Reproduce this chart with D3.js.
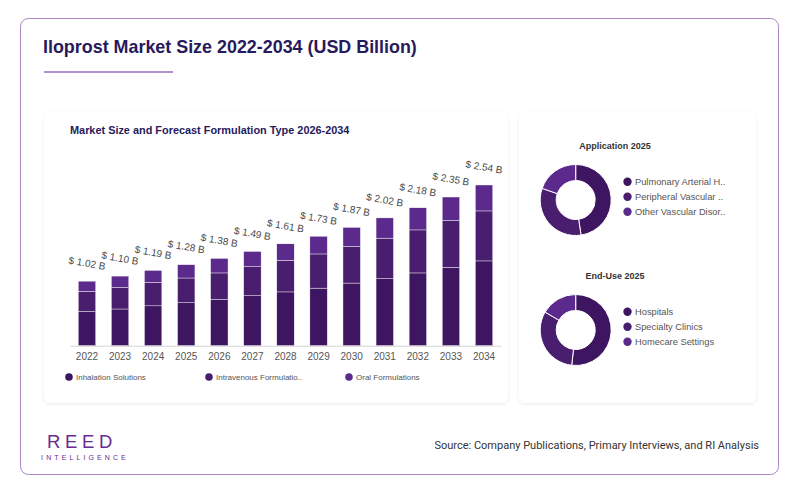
<!DOCTYPE html>
<html>
<head>
<meta charset="utf-8">
<script src="https://cdn.jsdelivr.net/npm/d3@7"></script>
<style>
  html, body { margin: 0; padding: 0; background: #ffffff; }
  svg { display: block; }
</style>
</head>
<body>
<svg id="chart" width="800" height="493"></svg>
<script>
'use strict';

var years = ['2022', '2023', '2024', '2025', '2026', '2027', '2028', '2029', '2030', '2031', '2032', '2033', '2034'];
var totals = [1.02, 1.10, 1.19, 1.28, 1.38, 1.49, 1.61, 1.73, 1.87, 2.02, 2.18, 2.35, 2.54];
var inhalation = [0.54, 0.58, 0.63, 0.68, 0.73, 0.79, 0.85, 0.91, 0.99, 1.06, 1.15, 1.24, 1.34];
var intravenous = [0.32, 0.34, 0.37, 0.39, 0.42, 0.46, 0.50, 0.54, 0.58, 0.64, 0.68, 0.74, 0.79];
var oral = [0.16, 0.18, 0.19, 0.21, 0.23, 0.24, 0.26, 0.28, 0.30, 0.32, 0.35, 0.37, 0.41];
var seriesNames = ['Inhalation Solutions', 'Intravenous Formulatio..', 'Oral Formulations'];

var appLabels = ['Pulmonary Arterial H..', 'Peripheral Vascular ..', 'Other Vascular Disor..'];
var appValues = [47.6, 32.7, 19.7];
var endUseLabels = ['Hospitals', 'Specialty Clinics', 'Homecare Settings'];
var endUseValues = [51.8, 31.6, 16.6];

(function () {
    var colors = ['#3d1560', '#4a1e6e', '#5b2a8c'];
    var titleColor = '#271a5c';
    var svg = d3.select('#chart');

    // soft card shadow
    var defs = svg.append('defs');
    var f = defs.append('filter').attr('id', 'shadow')
        .attr('x', '-5%').attr('y', '-5%').attr('width', '110%').attr('height', '110%');
    f.append('feDropShadow').attr('dx', 0).attr('dy', 1).attr('stdDeviation', 1.5)
        .attr('flood-color', '#000').attr('flood-opacity', 0.08);

    // outer frame
    svg.append('rect')
        .attr('x', 20.5).attr('y', 18.5).attr('width', 758).attr('height', 456)
        .attr('rx', 8).attr('fill', '#fff').attr('stroke', '#a986c6').attr('stroke-width', 1);

    svg.append('text')
        .attr('x', 43).attr('y', 53)
        .attr('font-family', 'Liberation Sans, Arial, sans-serif')
        .attr('font-weight', 'bold').attr('font-size', 17.9)
        .attr('fill', titleColor)
        .text('Iloprost Market Size 2022-2034 (USD Billion)');

    svg.append('line')
        .attr('x1', 44).attr('x2', 173).attr('y1', 72).attr('y2', 72)
        .attr('stroke', '#9a6bbd').attr('stroke-width', 1.5);

    // cards
    svg.append('rect').attr('x', 44).attr('y', 112).attr('width', 464).attr('height', 291)
        .attr('rx', 6).attr('fill', '#fff').attr('filter', 'url(#shadow)');
    svg.append('rect').attr('x', 519).attr('y', 112).attr('width', 237).attr('height', 291)
        .attr('rx', 6).attr('fill', '#fff').attr('filter', 'url(#shadow)');

    svg.append('text')
        .attr('x', 70).attr('y', 134)
        .attr('font-family', 'Liberation Sans, Arial, sans-serif')
        .attr('font-weight', 'bold').attr('font-size', 10.9)
        .attr('fill', titleColor)
        .text('Market Size and Forecast Formulation Type 2026-2034');

    /* stacked bars */
    var x = d3.scaleBand().domain(years).range([70, 501]).paddingInner(0.474).paddingOuter(0.25);
    var y = d3.scaleLinear().domain([0, 2.54]).range([345.7, 185]);

    var rows = years.map(function (yr, i) {
        return { year: yr, inh: inhalation[i], iv: intravenous[i], oral: oral[i], total: totals[i] };
    });
    var stack = d3.stack().keys(['inh', 'iv', 'oral'])(rows);

    var g = svg.append('g');
    g.selectAll('g.series')
        .data(stack)
        .enter().append('g')
          .attr('fill', function (d, i) { return colors[i]; })
        .selectAll('rect')
        .data(function (d) { return d; })
        .enter().append('rect')
          .attr('x', function (d) { return x(d.data.year); })
          .attr('y', function (d) { return y(d[1]); })
          .attr('width', x.bandwidth())
          .attr('height', function (d) { return y(d[0]) - y(d[1]); })
          .attr('stroke', '#fff').attr('stroke-width', 0.4);

    var xAxis = svg.append('g')
        .attr('transform', 'translate(0,' + y(0) + ')')
        .call(d3.axisBottom(x).tickSize(0).tickPadding(7));
    xAxis.select('.domain').attr('stroke', '#d4d4d4');
    xAxis.selectAll('text')
        .attr('font-family', 'Liberation Sans, Arial, sans-serif')
        .attr('font-size', 10).attr('fill', '#555');

    g.selectAll('text.total')
        .data(rows)
        .enter().append('text')
          .attr('class', 'total')
          .attr('transform', function (d) {
              return 'translate(' + (x(d.year) + x.bandwidth() / 2) + ',' + (y(d.total) - 18) + ') rotate(10)';
          })
          .attr('text-anchor', 'middle').attr('dominant-baseline', 'central')
          .attr('font-family', 'Liberation Sans, Arial, sans-serif')
          .attr('font-size', 10).attr('fill', '#4a4a4a')
          .text(function (d) { return '$ ' + d.total.toFixed(2) + ' B'; });

    var leg = svg.append('g');
    seriesNames.forEach(function (name, i) {
        var lx = 69 + i * 140;
        leg.append('circle').attr('cx', lx).attr('cy', 377).attr('r', 3.8).attr('fill', colors[i]);
        leg.append('text').attr('x', lx + 7).attr('y', 377)
            .attr('dominant-baseline', 'central')
            .attr('font-family', 'Liberation Sans, Arial, sans-serif')
            .attr('font-size', 8).attr('fill', '#555')
            .text(name);
    });

    /* donuts */
    function donut(title, labels, values, cy, titleY) {
        svg.append('text')
            .attr('x', 615).attr('y', titleY)
            .attr('text-anchor', 'middle').attr('dominant-baseline', 'central')
            .attr('font-family', 'Liberation Sans, Arial, sans-serif')
            .attr('font-weight', 'bold').attr('font-size', 9).attr('fill', '#333')
            .text(title);

        var pie = d3.pie().sort(null)(values);
        var arc = d3.arc().innerRadius(19.5).outerRadius(35.5);
        svg.append('g')
            .attr('transform', 'translate(575.7,' + cy + ')')
            .selectAll('path')
            .data(pie)
            .enter().append('path')
              .attr('d', arc)
              .attr('fill', function (d, i) { return colors[i]; })
              .attr('stroke', '#fff').attr('stroke-width', 1);

        labels.forEach(function (name, i) {
            var ly = cy - 18.3 + i * 15;
            svg.append('circle').attr('cx', 627.5).attr('cy', ly).attr('r', 4.2).attr('fill', colors[i]);
            svg.append('text').attr('x', 635).attr('y', ly)
                .attr('dominant-baseline', 'central')
                .attr('font-family', 'Liberation Sans, Arial, sans-serif')
                .attr('font-size', 9.3).attr('fill', '#555')
                .text(name);
        });
    }

    donut('Application 2025', appLabels, appValues, 200, 145.7);
    donut('End-Use 2025', endUseLabels, endUseValues, 330, 275.7);

    /* footer */
    svg.append('text')
        .attr('x', 82).attr('y', 447.7)
        .attr('text-anchor', 'middle')
        .attr('font-family', 'Liberation Sans, Arial, sans-serif')
        .attr('font-size', 18.5).attr('letter-spacing', 4.6)
        .attr('fill', '#6a2b91')
        .text('REED');
    svg.append('text')
        .attr('x', 85).attr('y', 460)
        .attr('text-anchor', 'middle')
        .attr('font-family', 'Liberation Sans, Arial, sans-serif')
        .attr('font-size', 7).attr('letter-spacing', 3.1)
        .attr('fill', '#6a2b91')
        .text('INTELLIGENCE');

    svg.append('text')
        .attr('x', 759).attr('y', 445)
        .attr('text-anchor', 'end').attr('dominant-baseline', 'central')
        .attr('font-family', 'Roboto, sans-serif')
        .attr('font-size', 11).attr('fill', '#333')
        .text('Source: Company Publications, Primary Interviews, and RI Analysis');
})();
</script>
</body>
</html>
